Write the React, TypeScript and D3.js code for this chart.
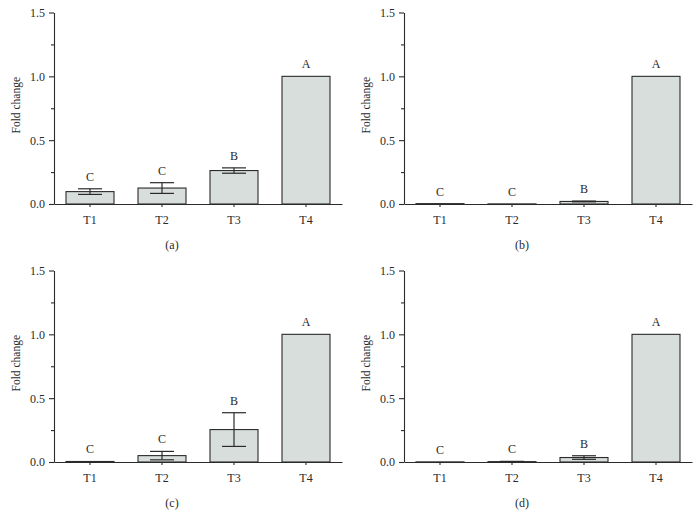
import React, { useEffect, useRef } from 'react'
import * as d3 from 'd3'

const categories = ['T1', 'T2', 'T3', 'T4']
const letters = ['C', 'C', 'B', 'A']
const yTicks = [0, 0.5, 1.0, 1.5]
const yMinorTicks = [0.25, 0.75, 1.25]

// fold change means and error (SD) per panel
const meanA = [0.097, 0.125, 0.262, 1.0]
const errA = [0.022, 0.042, 0.021, 0]
const meanB = [0.003, 0.001, 0.02, 1.0]
const errB = [0, 0, 0.003, 0]
const meanC = [0.004, 0.05, 0.254, 1.0]
const errC = [0, 0.033, 0.132, 0]
const meanD = [0.001, 0.003, 0.035, 1.0]
const errD = [0, 0.002, 0.014, 0]

const panels = [
  { caption: '(a)', mean: meanA, err: errA, ox: 0, oy: 0 },
  { caption: '(b)', mean: meanB, err: errB, ox: 350, oy: 0 },
  { caption: '(c)', mean: meanC, err: errC, ox: 0, oy: 258 },
  { caption: '(d)', mean: meanD, err: errD, ox: 350, oy: 258 },
]

const FONT = '"Liberation Serif", "Times New Roman", serif'
const INK = '#2a2a2a'
const FILL = '#d7dedc'

export default function App() {
  const svgRef = useRef<SVGSVGElement>(null)

  useEffect(() => {
    const svg = d3.select(svgRef.current)
    svg.selectAll('*').remove()

    const x = d3.scaleBand<string>()
      .domain(categories)
      .range([54, 342])
      .paddingInner(1 / 3)
      .paddingOuter(1 / 6)
    const y = d3.scaleLinear().domain([0, 1.5]).range([204, 12.5])

    panels.forEach((p) => {
      const g = svg.append('g').attr('transform', `translate(${p.ox},${p.oy})`)

      // bars
      g.selectAll('.bar')
        .data(p.mean)
        .enter()
        .append('rect')
        .attr('x', (_, i) => x(categories[i])!)
        .attr('width', x.bandwidth())
        .attr('y', d => y(d))
        .attr('height', d => Math.max(0.6, y(0) - y(d)))
        .attr('fill', FILL)
        .attr('stroke', INK)
        .attr('stroke-width', 1.1)

      // error bars
      const capW = 24
      p.mean.forEach((m, i) => {
        const e = p.err[i]
        if (!e) return
        const cx = x(categories[i])! + x.bandwidth() / 2
        const eg = g.append('g').attr('stroke', INK).attr('stroke-width', 1.2)
        eg.append('line').attr('x1', cx).attr('x2', cx).attr('y1', y(m - e)).attr('y2', y(m + e))
        eg.append('line').attr('x1', cx - capW / 2).attr('x2', cx + capW / 2).attr('y1', y(m + e)).attr('y2', y(m + e))
        eg.append('line').attr('x1', cx - capW / 2).attr('x2', cx + capW / 2).attr('y1', y(m - e)).attr('y2', y(m - e))
      })

      // significance letters
      g.selectAll('.letter')
        .data(p.mean)
        .enter()
        .append('text')
        .attr('x', (_, i) => x(categories[i])! + x.bandwidth() / 2)
        .attr('y', (d, i) => y(d + p.err[i]) - 8)
        .attr('text-anchor', 'middle')
        .attr('font-family', FONT)
        .attr('font-size', 12)
        .attr('fill', INK)
        .text((_, i) => letters[i])

      // y axis
      const yAxis = g.append('g')
        .attr('transform', 'translate(54,0)')
        .call(d3.axisLeft(y).tickValues(yTicks).tickFormat(d3.format('.1f')).tickSize(5).tickSizeOuter(0).tickPadding(4))
      yAxis.append('g')
        .call(d3.axisLeft(y).tickValues(yMinorTicks).tickFormat(() => '').tickSize(3).tickSizeOuter(0))
        .select('.domain').remove()

      // x axis
      const xAxis = g.append('g')
        .attr('transform', `translate(0,${y(0)})`)
        .call(d3.axisBottom(x).tickSize(3).tickSizeOuter(0).tickPadding(8))

      ;[yAxis, xAxis].forEach(ax => {
        ax.selectAll('path, line').attr('stroke', INK).attr('stroke-width', 1.1)
        ax.selectAll('text')
          .attr('font-family', FONT)
          .attr('font-size', 12)
          .attr('fill', INK)
      })

      // y label
      g.append('text')
        .attr('transform', `translate(20,${(y(0) + y(1.5)) / 2 - 3}) rotate(-90)`)
        .attr('text-anchor', 'middle')
        .attr('font-family', FONT)
        .attr('font-size', 11.5)
        .attr('fill', INK)
        .text('Fold change')

      // caption
      g.append('text')
        .attr('x', 172)
        .attr('y', y(0) + 45)
        .attr('text-anchor', 'middle')
        .attr('font-family', FONT)
        .attr('font-size', 12)
        .attr('fill', INK)
        .text(p.caption)
    })
  }, [])

  return (
    <svg
      ref={svgRef}
      width={700}
      height={530}
      style={{ position: 'absolute', left: 0, top: 0, background: '#fff' }}
    />
  )
}
